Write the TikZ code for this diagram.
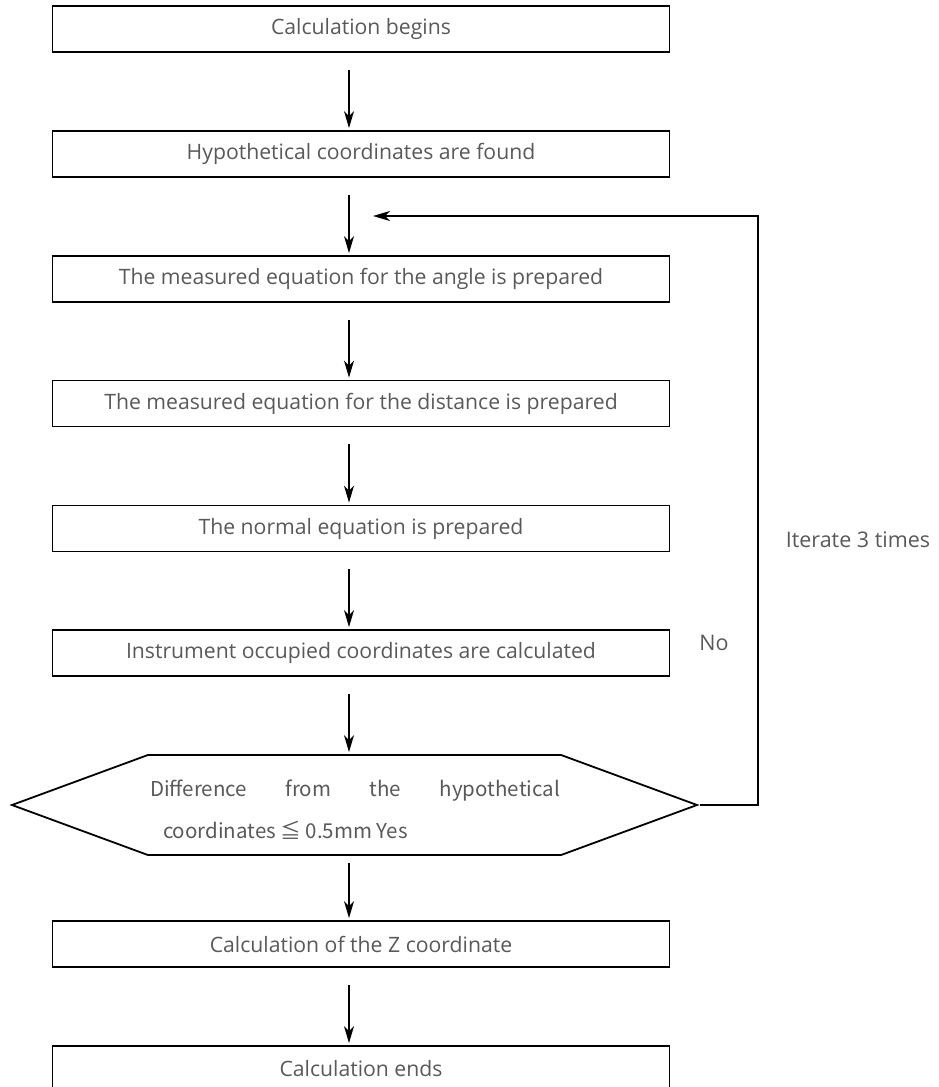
\documentclass[tikz,border=0pt]{standalone}
\usepackage{fontspec}
\setmainfont{Open Sans}
\newfontfamily\hexfont{Noto Sans CJK SC}
\usetikzlibrary{arrows.meta, shapes.symbols}
\definecolor{ctext}{HTML}{595959}
\tikzset{
  every picture/.style={line width=1.8pt},
  box/.style={draw=black, minimum width=617pt, minimum height=46pt, inner sep=0pt, font=\fontsize{21.2}{26}\selectfont, text=ctext},
  decision/.style={draw=black, signal, signal to=west and east, signal pointer angle=40.4, minimum width=685pt, minimum height=100pt, inner sep=0pt},
  decisiontext/.style={align=left, inner sep=0pt, font=\hexfont\fontsize{20.5}{42}\selectfont, text=ctext},
  flow/.style={-{Stealth[length=17pt, width=10pt, inset=5pt]}, shorten <=17pt, shorten >=2pt},
  note/.style={font=\fontsize{21.5}{26}\selectfont, text=ctext},
}

\begin{document}
\begin{tikzpicture}[x=1pt, y=-1pt]
  \useasboundingbox (0,0) rectangle (938,1087);
  \node[box] (begin) at (361,29) {Calculation begins};
  \node[box] (found) at (361,154) {Hypothetical coordinates are found};
  \node[box] (angle) at (361,279) {The measured equation for the angle is prepared};
  \node[box] (dist) at (361,403.5) {The measured equation for the distance is prepared};
  \node[box] (normal) at (361,528.5) {The normal equation is prepared};
  \node[box] (occupied) at (361,653) {Instrument occupied coordinates are calculated};
  \node[decision] (check) at (354.5,805) {};
  \node[decisiontext] (checktext) at (355,810) {\makebox[410pt][s]{Difference from the hypothetical}\\\hspace*{13pt}coordinates ≦ 0.5mm Yes};
  \node[box] (zcoord) at (361,944) {Calculation of the Z coordinate};
  \node[box] (ends) at (361,1069) {Calculation ends};
  \coordinate (back) at (373,216);
  % main flow
  \draw[flow] ([xshift=-12pt]begin.south) -- ([xshift=-12pt]found.north);
  \draw[flow] ([xshift=-12pt]found.south) -- ([xshift=-12pt]angle.north);
  \draw[flow] ([xshift=-12pt]angle.south) -- ([xshift=-12pt]dist.north);
  \draw[flow] ([xshift=-12pt]dist.south) -- ([xshift=-12pt]normal.north);
  \draw[flow] ([xshift=-12pt]normal.south) -- ([xshift=-12pt]occupied.north);
  \draw[flow] ([xshift=-12pt]occupied.south) -- ([xshift=-12pt]occupied.south |- check.north);
  \draw[flow, shorten <=7pt] ([xshift=-12pt]zcoord.north |- check.south) -- ([xshift=-12pt]zcoord.north);
  \draw[flow] ([xshift=-12pt]zcoord.south) -- ([xshift=-12pt]ends.north);
  % iteration loop
  \draw[-{Stealth[length=17pt, width=10pt, inset=5pt]}] (check.east) -- ++(58,0) |- (back);
  \node[note] (no) at (714,643) {No};
  \node[note] (iterate) at (858,540) {Iterate 3 times};
\end{tikzpicture}
\end{document}
